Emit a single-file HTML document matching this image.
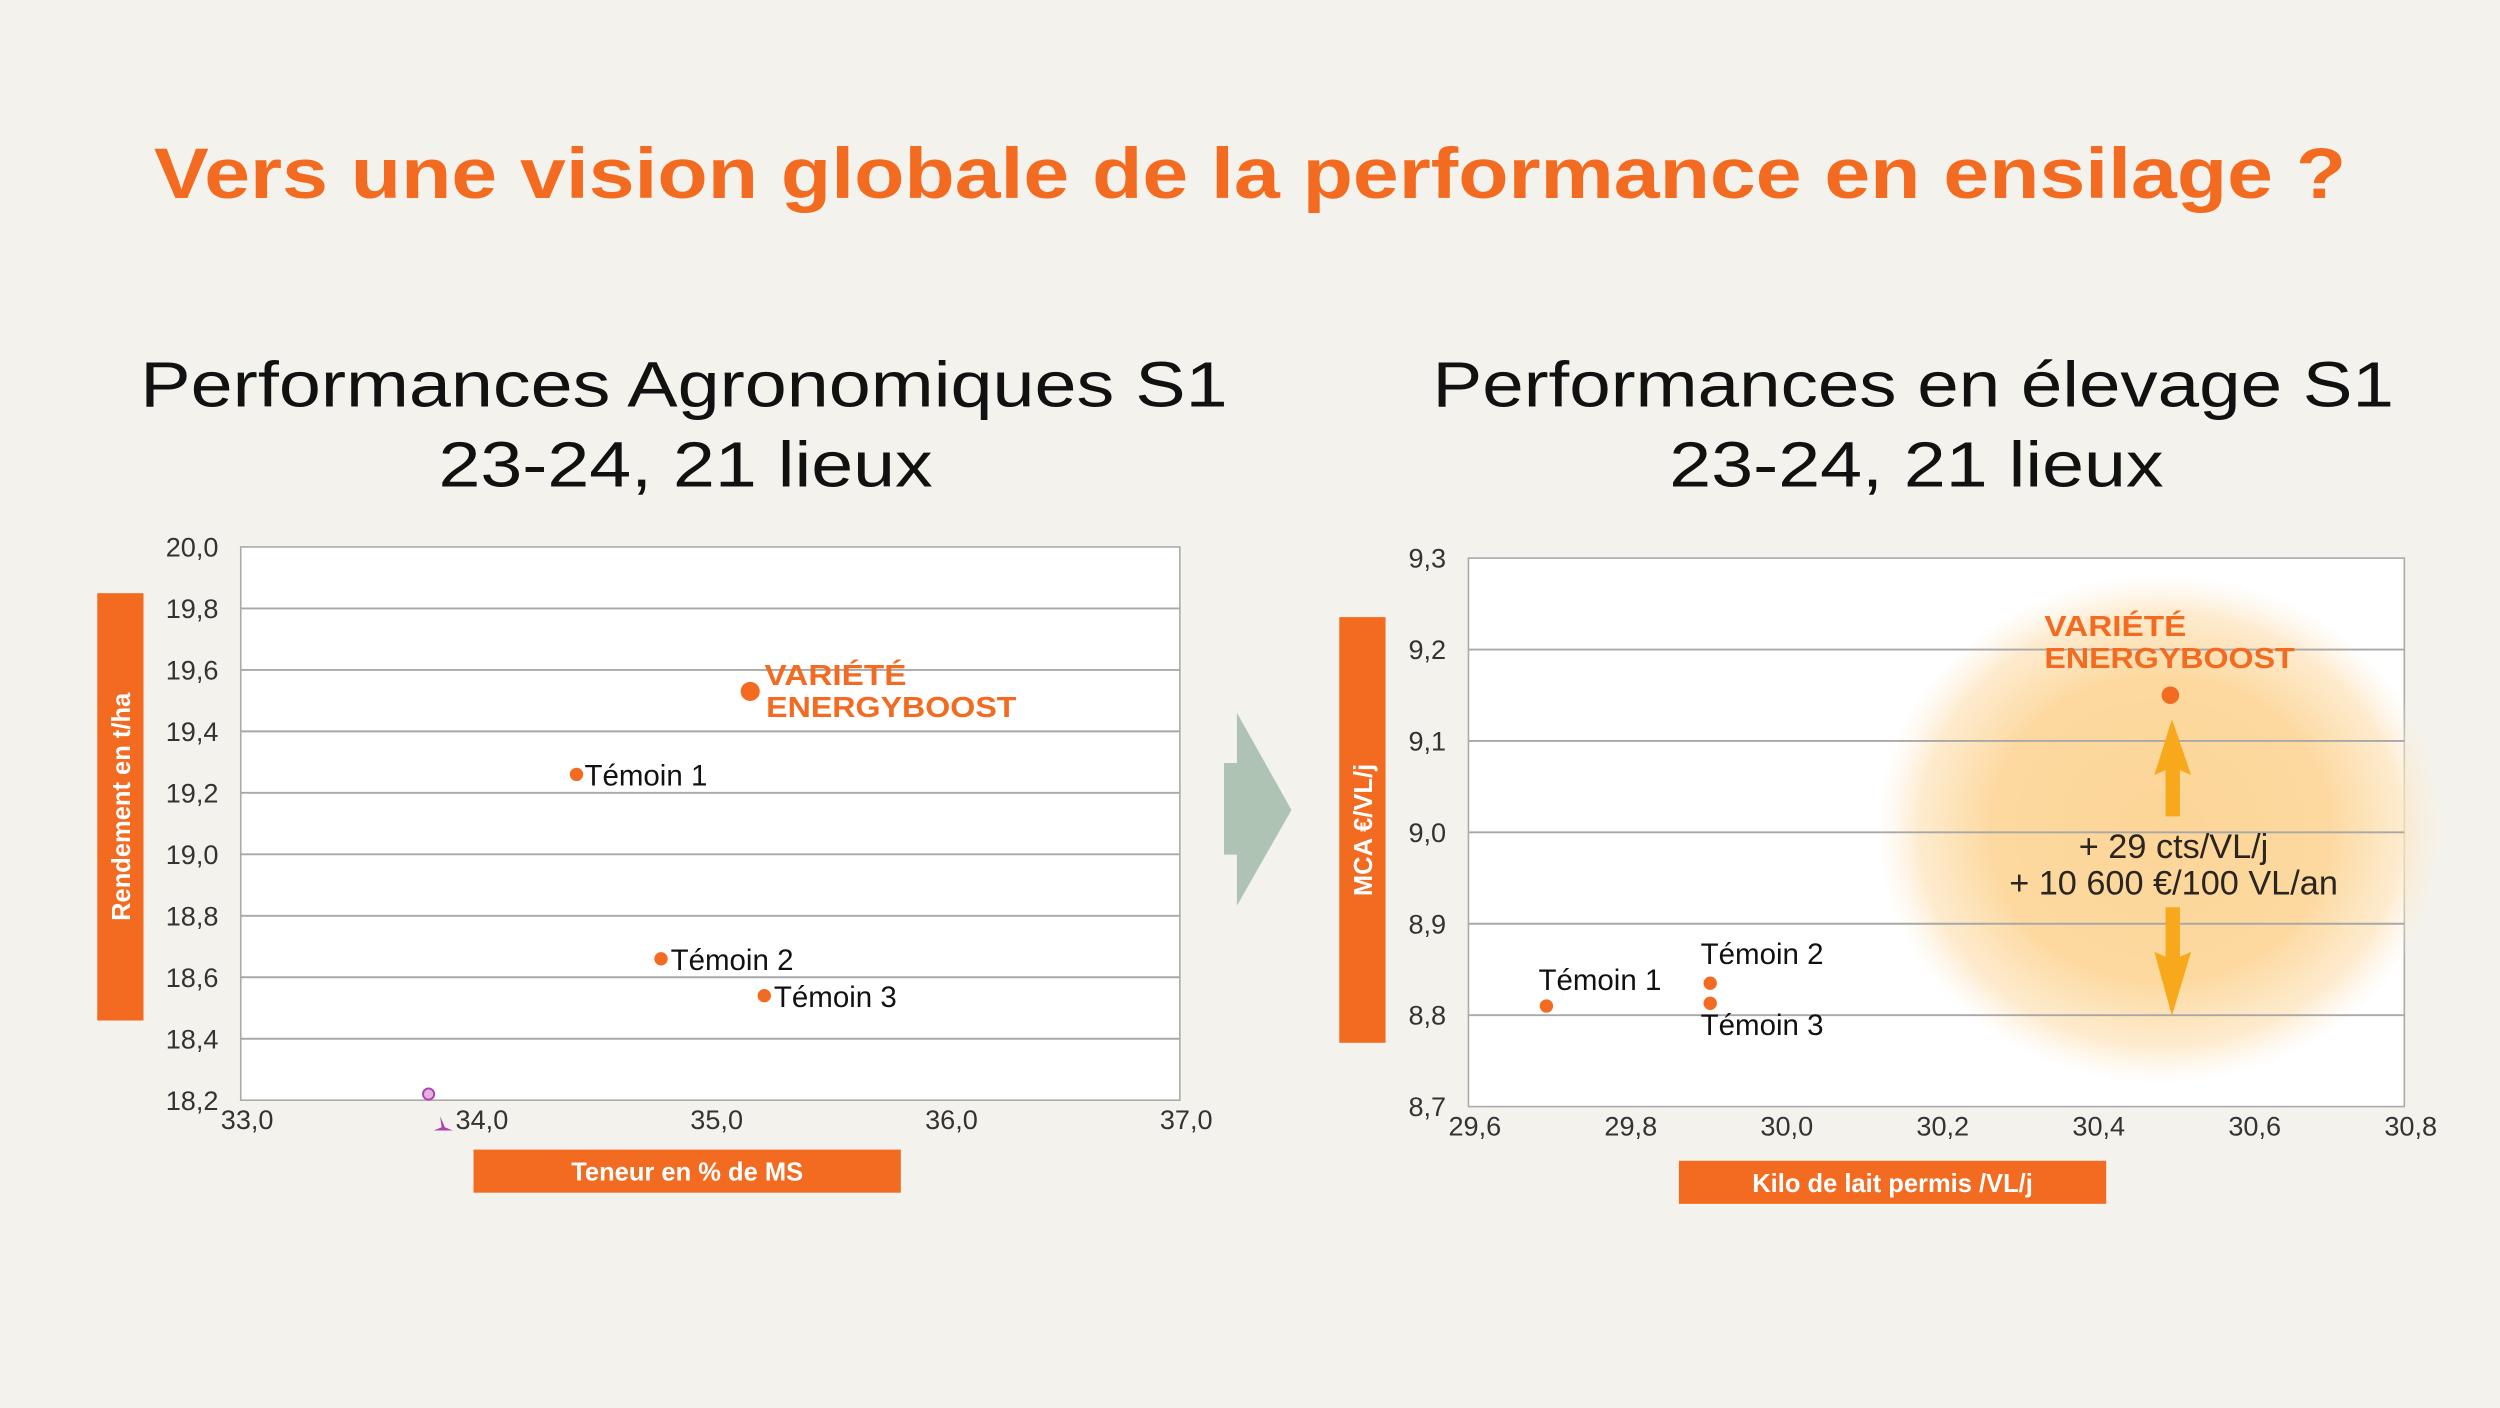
<!DOCTYPE html>
<html><head><meta charset="utf-8"><style>
html,body{margin:0;padding:0;background:#f3f2ec;}
svg{display:block;font-family:"Liberation Sans",Arial,sans-serif;}
</style></head><body>
<svg id="s" width="2500" height="1408" viewBox="0 0 1568 883" xmlns="http://www.w3.org/2000/svg">
<defs>
<radialGradient id="glow" cx="50%" cy="50%" r="50%">
<stop offset="0" stop-color="#fcd597"/>
<stop offset="0.6" stop-color="#fdd9a0"/>
<stop offset="0.85" stop-color="#fde6c2" stop-opacity="0.8"/>
<stop offset="1" stop-color="#fdf0dc" stop-opacity="0"/>
</radialGradient>
</defs>
<rect width="1568" height="883" fill="#f3f2ec"/>
<text x="784" y="124" text-anchor="middle" font-size="45" font-weight="bold" fill="#f26b21" textLength="1375" lengthAdjust="spacingAndGlyphs">Vers une vision globale de la performance en ensilage ?</text>
<g font-size="40" fill="#111" text-anchor="middle">
<text x="429" y="255" textLength="682" lengthAdjust="spacingAndGlyphs">Performances Agronomiques S1</text>
<text x="430" y="305" textLength="310" lengthAdjust="spacingAndGlyphs">23-24, 21 lieux</text>
<text x="1200" y="255" textLength="603" lengthAdjust="spacingAndGlyphs">Performances en élevage S1</text>
<text x="1202" y="305" textLength="310" lengthAdjust="spacingAndGlyphs">23-24, 21 lieux</text>
</g>
<polygon points="767.7,478.5 775.8,478.5 775.8,447 810,508 775.8,568 775.8,536 767.7,536" fill="#afc3b4"/>
<g id="left"></g>
<g id="right"></g>
</svg>
<script>
// Left chart data
const leftLabels = ["VARIÉTÉ ENERGYBOOST","Témoin 1","Témoin 2","Témoin 3"];
const leftX = [35.17, 34.43, 34.79, 35.23];
const leftY = [19.53, 19.26, 18.66, 18.54];
const leftXTicks = ["33,0","34,0","35,0","36,0","37,0"];
const leftYTicks = ["18,2","18,4","18,6","18,8","19,0","19,2","19,4","19,6","19,8","20,0"];
// Right chart data
const rightLabels = ["VARIÉTÉ ENERGYBOOST","Témoin 1","Témoin 2","Témoin 3"];
const rightX = [30.50, 29.70, 29.91, 29.91];
const rightY = [9.15, 8.81, 8.835, 8.813];
const rightXTicks = ["29,6","29,8","30,0","30,2","30,4","30,6","30,8"];
const rightYTicks = ["8,7","8,8","8,9","9,0","9,1","9,2","9,3"];

const NS="http://www.w3.org/2000/svg";
function mk(parent,tag,attrs,txt){const e=document.createElementNS(NS,tag);for(const k in attrs)e.setAttribute(k,attrs[k]);if(txt!==undefined)e.textContent=txt;parent.appendChild(e);return e;}
const num=s=>parseFloat(s.replace(",","."));

function chart(g,o){
  const xmin=num(o.xt[0]),xmax=num(o.xt[o.xt.length-1]),ymin=num(o.yt[0]),ymax=num(o.yt[o.yt.length-1]);
  const sx=v=>o.x0+(v-xmin)/(xmax-xmin)*(o.x1-o.x0);
  const sy=v=>o.y1-(v-ymin)/(ymax-ymin)*(o.y1-o.y0);
  const plot=mk(g,'rect',{x:o.x0,y:o.y0,width:o.x1-o.x0,height:o.y1-o.y0,fill:'#fff',stroke:'#aaa','stroke-width':1});
  
  
  if(o.glow){const gl=mk(g,'ellipse',{cx:o.glow[0],cy:o.glow[1],rx:o.glow[2],ry:o.glow[3],fill:'url(#glow)'});
    
    }
  o.yt.forEach((t,i)=>{const y=sy(num(t));
    if(i>0&&i<o.yt.length-1){const l=mk(g,'line',{x1:o.x0,x2:o.x1,y1:y,y2:y,stroke:'#a8a8a8','stroke-width':1.2});
      
      }
    const tx=mk(g,'text',{x:o.x0-14,y:y+6,'text-anchor':'end','font-size':17,fill:'#333'},t);
    
    });
  o.xt.forEach(t=>{const tx=mk(g,'text',{x:sx(num(t))+4,y:o.y1+18,'text-anchor':'middle','font-size':17,fill:'#333'},t);
    
    });
  const yr=mk(g,'rect',{x:o.yl[0],y:o.yl[1],width:o.yl[2],height:o.yl[3],fill:'#f26b21'});
  
  
  const cx=o.yl[0]+o.yl[2]/2+6,cy=o.yl[1]+o.yl[3]/2;
  const yt=mk(g,'text',{x:cx,y:cy,'text-anchor':'middle','font-size':16,'font-weight':'bold',fill:'#fff',transform:`rotate(-90 ${cx} ${cy})`},o.ytitle);
  
  
  const xr=mk(g,'rect',{x:o.xl[0],y:o.xl[1],width:o.xl[2],height:o.xl[3],fill:'#f26b21'});
  
  
  const xt=mk(g,'text',{x:o.xl[0]+o.xl[2]/2,y:o.xl[1]+o.xl[3]/2+6,'text-anchor':'middle','font-size':16,'font-weight':'bold',fill:'#fff'},o.xtitle);
  
  
  o.px.forEach((v,i)=>{const x=sx(v),y=sy(o.py[i]);
    const c=mk(g,'circle',{cx:x,cy:y,r:i==0?o.r0:4.2,fill:'#f26b21'});
    
    
    const lp=o.lab[i];
    if(i==0){const t=mk(g,'text',{x:x+lp[0],y:y+lp[1],'font-size':18,'font-weight':'bold',fill:'#f26b21'});
      mk(t,'tspan',{x:x+lp[0],dy:0,textLength:89,lengthAdjust:'spacingAndGlyphs'},"VARIÉTÉ");
      mk(t,'tspan',{x:x+lp[0]+lp[2],dy:20,textLength:157,lengthAdjust:'spacingAndGlyphs'},"ENERGYBOOST");
      
      }
    else{const t=mk(g,'text',{x:x+lp[0],y:y+lp[1],'font-size':18.5,fill:'#111'},o.labels[i]);
      
      }
  });
  return {sx,sy};
}
const L=chart(document.getElementById('left'),{x0:151,x1:740,y0:343,y1:690,xt:leftXTicks,yt:leftYTicks,px:leftX,py:leftY,labels:leftLabels,r0:6,
  yl:[61,372,29,268],xl:[297,721,268,27],ytitle:"Rendement en t/ha",xtitle:"Teneur en % de MS",
  lab:[[9,-4,1],[5,7],[6,7],[6,7]]});
const lg=document.getElementById('left');
const pm=mk(lg,'circle',{cx:L.sx(33.8),cy:L.sy(18.22),r:3.5,fill:'#e4b0e4',stroke:'#b040b0','stroke-width':1.2});


const pm2=mk(lg,'path',{d:'M276 700 L277 707 L272 709 L284 709 L279 707 Z',fill:'#b040b0'});



const R=chart(document.getElementById('right'),{x0:921,x1:1508,y0:350,y1:694,xt:rightXTicks,yt:rightYTicks,px:rightX,py:rightY,labels:rightLabels,r0:5.5,
  glow:[1355,520,178,160],
  yl:[840,387,29,267],xl:[1053,728,268,27],ytitle:"MCA €/VL/j",xtitle:"Kilo de lait permis /VL/j",
  lab:[[-79,-37,0],[-5,-10],[-6,-12],[-6,20]]});
const rg=document.getElementById('right');
const ax=R.sx(rightX[0])+2;
const up=mk(rg,'polygon',{points:`${ax-1},451 ${ax+11},486 ${ax+4},483 ${ax+4},512 ${ax-5},512 ${ax-5},483 ${ax-12},486`,fill:'#f7a81b'});


const dn=mk(rg,'polygon',{points:`${ax-5},569 ${ax+4},569 ${ax+4},600 ${ax+11},597 ${ax-1},637 ${ax-12},597 ${ax-5},600`,fill:'#f7a81b'});


const g1=mk(rg,'text',{x:ax,y:538,'text-anchor':'middle','font-size':21.5,fill:'#2a2520'},"+ 29 cts/VL/j");


const g2=mk(rg,'text',{x:ax,y:561,'text-anchor':'middle','font-size':21.5,fill:'#2a2520'},"+ 10 600 €/100 VL/an");


</script>
</body></html>
